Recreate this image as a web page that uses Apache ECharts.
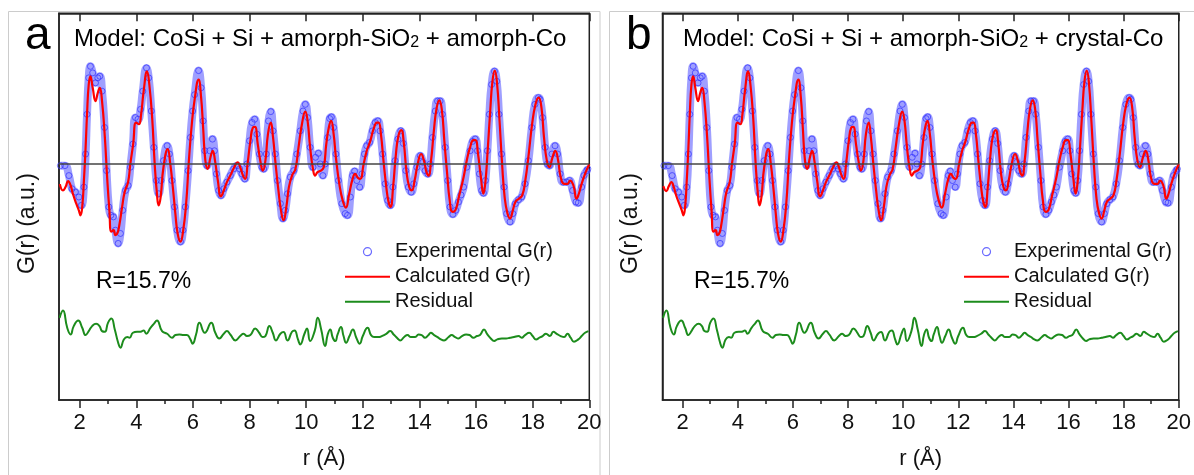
<!DOCTYPE html>
<html><head><meta charset="utf-8">
<script src="https://cdn.jsdelivr.net/npm/echarts@6/dist/echarts.min.js"></script>
<style>html,body{margin:0;padding:0;background:#fff}#c{width:1194px;height:475px}</style>
</head><body><div id="c"></div>
<script>
// r (Å) limits and tick labels
const rMin = 1.27, rMax = 20;
const majorTicks = [2,4,6,8,10,12,14,16,18,20];
const minorTicks = [3,5,7,9,11,13,15,17,19];
const gMin = -23.84, gMax = 15.1;

// Experimental G(r) (same measurement in both panels), [r, G]
const expData = [[1.32,-0.24],[1.48,-0.24],[1.62,-1.24],[1.73,-2.57],[1.85,-2.90],[1.97,-3.40],[2.06,-4.24],[2.15,-2.40],[2.21,0.93],[2.26,4.93],[2.32,8.60],[2.38,9.76],[2.46,9.10],[2.56,8.10],[2.64,8.60],[2.71,8.76],[2.79,7.26],[2.88,3.60],[2.95,-0.74],[3.03,-4.40],[3.10,-5.24],[3.19,-5.40],[3.26,-6.74],[3.36,-8.07],[3.44,-7.07],[3.52,-4.74],[3.62,-2.74],[3.71,-2.24],[3.79,-0.40],[3.88,1.93],[3.97,4.60],[4.06,4.43],[4.15,5.43],[4.23,7.26],[4.36,9.60],[4.44,8.60],[4.53,5.26],[4.62,1.60],[4.71,-1.74],[4.79,-3.07],[4.87,-1.74],[4.96,0.26],[5.09,1.76],[5.17,0.93],[5.26,-1.74],[5.35,-4.40],[5.44,-6.74],[5.56,-7.90],[5.65,-6.74],[5.73,-4.40],[5.83,-0.74],[5.91,2.60],[5.99,5.26],[6.06,6.90],[6.20,9.33],[6.29,7.60],[6.36,4.26],[6.42,1.26],[6.50,-0.24],[6.59,1.26],[6.69,2.43],[6.76,1.26],[6.83,-1.07],[6.91,-2.74],[6.99,-3.24],[7.09,-2.57],[7.20,-1.90],[7.32,-1.24],[7.44,-0.57],[7.56,-0.24],[7.65,-0.57],[7.73,-1.07],[7.83,-1.57],[7.91,-0.07],[8.00,2.26],[8.09,4.10],[8.18,4.43],[8.26,2.93],[8.35,0.93],[8.44,-0.40],[8.50,-0.57],[8.59,0.93],[8.67,4.26],[8.75,5.20],[8.83,3.26],[8.91,0.93],[8.99,-1.74],[9.09,-4.07],[9.18,-5.57],[9.26,-4.74],[9.34,-3.07],[9.44,-1.40],[9.56,-0.74],[9.67,0.93],[9.79,3.26],[9.89,5.26],[9.97,5.93],[10.05,4.60],[10.14,1.60],[10.24,-0.40],[10.33,0.60],[10.43,1.00],[10.50,-0.07],[10.59,-1.24],[10.67,-0.07],[10.76,2.60],[10.83,4.50],[10.89,4.66],[10.97,3.60],[11.05,0.93],[11.14,-1.74],[11.26,-4.07],[11.38,-5.07],[11.46,-5.24],[11.56,-3.40],[11.64,-1.24],[11.71,-0.80],[11.79,-1.74],[11.89,-2.40],[11.97,-1.07],[12.06,0.93],[12.14,1.76],[12.24,2.10],[12.34,3.26],[12.44,4.10],[12.53,4.26],[12.61,3.26],[12.70,0.93],[12.79,-2.07],[12.88,-3.74],[12.97,-4.24],[13.06,-2.40],[13.14,0.26],[13.24,2.43],[13.34,3.26],[13.43,2.00],[13.52,-0.74],[13.61,-2.40],[13.71,-2.90],[13.80,-2.07],[13.91,-0.40],[14.03,0.76],[14.12,0.10],[14.20,-0.74],[14.30,-1.07],[14.38,-0.07],[14.46,2.60],[14.56,5.26],[14.64,6.26],[14.73,6.26],[14.81,4.93],[14.91,1.60],[15.00,-1.74],[15.08,-4.40],[15.18,-5.14],[15.28,-4.74],[15.38,-3.90],[15.47,-3.20],[15.56,-2.40],[15.67,-0.40],[15.79,1.26],[15.88,2.20],[15.97,2.43],[16.05,1.26],[16.12,-1.07],[16.20,-2.74],[16.26,-3.00],[16.33,-1.74],[16.40,1.26],[16.47,4.93],[16.55,7.93],[16.65,9.26],[16.73,8.26],[16.81,4.93],[16.90,0.93],[16.99,-2.40],[17.08,-5.07],[17.20,-5.90],[17.30,-5.07],[17.39,-4.07],[17.50,-3.67],[17.61,-3.40],[17.73,-2.07],[17.85,0.26],[17.97,3.60],[18.08,5.93],[18.20,6.60],[18.26,6.43],[18.35,4.60],[18.44,1.60],[18.52,-0.07],[18.59,-0.24],[18.68,0.93],[18.79,1.76],[18.88,0.93],[18.97,-1.07],[19.08,-1.90],[19.20,-1.90],[19.30,-1.74],[19.41,-2.74],[19.53,-3.90],[19.61,-4.00],[19.73,-2.40],[19.81,-1.24],[19.91,-0.74],[19.95,-0.57]];

// Calculated G(r), panel a (amorph-Co model)
const calcA = [[1.30,-2.10],[1.41,-2.74],[1.50,-2.40],[1.59,-1.80],[1.68,-2.24],[1.76,-3.07],[1.88,-4.07],[1.97,-4.74],[2.03,-5.24],[2.09,-4.40],[2.15,-1.74],[2.21,1.60],[2.26,4.93],[2.32,7.93],[2.38,8.76],[2.46,7.60],[2.56,6.26],[2.64,7.10],[2.71,7.60],[2.79,6.26],[2.89,2.60],[2.97,-1.40],[3.05,-4.74],[3.12,-6.90],[3.20,-6.74],[3.26,-7.24],[3.33,-7.07],[3.40,-6.24],[3.50,-4.40],[3.59,-2.90],[3.71,-1.90],[3.79,-0.07],[3.89,1.93],[3.99,4.10],[4.09,3.93],[4.17,4.93],[4.26,7.26],[4.38,9.26],[4.46,7.93],[4.56,4.60],[4.65,-0.07],[4.73,-3.07],[4.79,-4.24],[4.86,-3.40],[4.96,-0.40],[5.11,1.43],[5.20,-0.07],[5.29,-2.40],[5.38,-5.07],[5.46,-7.07],[5.56,-7.90],[5.65,-6.90],[5.76,-4.07],[5.85,-0.07],[5.95,3.60],[6.06,6.40],[6.20,8.43],[6.29,6.60],[6.36,3.60],[6.44,0.26],[6.52,-0.57],[6.62,0.60],[6.70,1.26],[6.78,0.26],[6.88,-1.74],[6.99,-3.34],[7.09,-2.74],[7.20,-1.90],[7.32,-1.24],[7.46,-0.40],[7.58,0.10],[7.67,-0.40],[7.77,-1.24],[7.85,-1.57],[7.93,-0.07],[8.03,2.26],[8.12,3.60],[8.19,3.66],[8.29,1.93],[8.38,0.26],[8.47,-0.74],[8.56,0.26],[8.65,2.93],[8.75,4.10],[8.83,2.60],[8.92,-0.07],[9.02,-2.74],[9.11,-4.74],[9.20,-5.74],[9.30,-4.40],[9.39,-2.40],[9.50,-1.24],[9.62,-0.57],[9.73,1.60],[9.85,3.93],[9.97,5.20],[10.05,4.26],[10.14,1.60],[10.24,-0.57],[10.32,-1.24],[10.40,-0.90],[10.52,-0.74],[10.62,-0.40],[10.71,1.93],[10.80,3.60],[10.88,4.26],[10.97,2.93],[11.05,0.60],[11.17,-2.07],[11.29,-3.74],[11.40,-4.47],[11.52,-3.07],[11.64,-1.57],[11.73,-1.07],[11.83,-1.47],[11.91,-1.57],[12.03,-0.07],[12.14,1.26],[12.26,2.20],[12.38,3.43],[12.50,4.10],[12.56,4.10],[12.64,2.93],[12.73,0.26],[12.83,-2.40],[12.91,-3.90],[12.98,-4.40],[13.07,-2.40],[13.17,0.93],[13.26,2.76],[13.36,3.33],[13.45,2.00],[13.54,-0.74],[13.64,-2.40],[13.73,-2.74],[13.83,-1.74],[13.94,-0.07],[14.06,0.93],[14.16,0.26],[14.25,-0.90],[14.32,-1.24],[14.41,0.26],[14.51,3.26],[14.60,5.43],[14.70,6.33],[14.79,5.43],[14.88,2.26],[14.98,-1.07],[15.07,-3.74],[15.17,-4.90],[15.28,-4.67],[15.40,-3.30],[15.56,-1.40],[15.67,0.26],[15.79,1.60],[15.91,2.33],[15.98,2.33],[16.07,0.93],[16.17,-1.40],[16.26,-3.07],[16.33,-1.90],[16.41,1.26],[16.50,5.26],[16.58,8.26],[16.66,9.33],[16.74,8.10],[16.83,4.26],[16.92,-0.07],[17.01,-3.40],[17.11,-5.07],[17.20,-5.57],[17.30,-4.74],[17.39,-3.90],[17.51,-3.57],[17.63,-3.24],[17.74,-1.74],[17.86,0.93],[17.98,3.93],[18.10,5.93],[18.21,6.60],[18.31,5.60],[18.40,2.60],[18.50,0.26],[18.59,-0.40],[18.70,0.60],[18.80,1.26],[18.90,0.26],[18.99,-1.40],[19.11,-2.07],[19.23,-2.07],[19.32,-1.74],[19.44,-2.24],[19.55,-3.57],[19.63,-3.07],[19.73,-2.07],[19.85,-1.07],[20.00,-0.07]];

// Residual (offset), panel a
const resA = [[1.29,-15.57],[1.41,-14.84],[1.56,-16.57],[1.68,-17.24],[1.79,-16.40],[1.95,-15.84],[2.09,-16.57],[2.21,-17.30],[2.32,-16.90],[2.44,-16.40],[2.58,-16.17],[2.70,-16.40],[2.79,-16.90],[2.89,-16.97],[3.00,-16.07],[3.12,-15.64],[3.24,-16.74],[3.36,-18.07],[3.44,-18.57],[3.56,-17.74],[3.68,-17.50],[3.76,-17.57],[3.88,-17.07],[4.03,-16.97],[4.15,-16.97],[4.26,-16.84],[4.35,-17.17],[4.50,-16.57],[4.62,-16.17],[4.73,-15.84],[4.91,-16.90],[5.09,-17.17],[5.26,-17.57],[5.38,-17.30],[5.52,-17.24],[5.67,-17.30],[5.79,-17.30],[5.91,-17.74],[5.99,-18.17],[6.11,-17.24],[6.23,-16.07],[6.42,-17.07],[6.65,-16.07],[6.79,-17.07],[6.93,-17.64],[7.09,-17.17],[7.20,-16.90],[7.32,-17.24],[7.50,-17.84],[7.67,-17.40],[7.79,-17.17],[7.91,-17.40],[8.03,-17.30],[8.20,-16.64],[8.34,-17.07],[8.46,-17.50],[8.56,-17.40],[8.70,-16.40],[8.82,-17.07],[8.93,-17.84],[9.09,-17.17],[9.20,-17.00],[9.34,-17.84],[9.50,-16.97],[9.59,-16.84],[9.71,-17.74],[9.79,-18.24],[9.94,-17.17],[10.03,-16.64],[10.14,-17.90],[10.30,-16.90],[10.41,-15.57],[10.53,-16.74],[10.67,-18.40],[10.76,-17.24],[10.85,-16.74],[10.94,-17.57],[11.03,-17.90],[11.11,-17.24],[11.23,-16.50],[11.32,-17.40],[11.41,-18.07],[11.53,-17.40],[11.65,-16.74],[11.77,-17.57],[11.89,-18.17],[12.00,-17.40],[12.17,-16.57],[12.29,-17.30],[12.40,-17.50],[12.56,-17.50],[12.67,-17.40],[12.83,-17.17],[12.97,-16.90],[13.09,-17.24],[13.23,-17.64],[13.32,-17.84],[13.46,-17.50],[13.58,-17.30],[13.70,-17.50],[13.85,-17.50],[13.97,-17.24],[14.08,-17.30],[14.20,-17.57],[14.32,-17.30],[14.40,-17.07],[14.52,-17.30],[14.64,-17.50],[14.76,-17.74],[14.87,-17.84],[15.03,-17.50],[15.14,-17.30],[15.26,-17.50],[15.38,-17.64],[15.50,-17.40],[15.65,-17.24],[15.77,-17.30],[15.91,-17.57],[16.03,-17.40],[16.14,-17.30],[16.28,-16.74],[16.40,-17.24],[16.52,-17.64],[16.64,-17.90],[16.75,-17.74],[16.91,-17.64],[17.06,-17.64],[17.20,-17.57],[17.34,-17.50],[17.50,-17.40],[17.61,-17.57],[17.73,-17.30],[17.88,-17.07],[18.00,-17.40],[18.12,-17.74],[18.24,-17.57],[18.35,-17.40],[18.47,-17.17],[18.61,-17.40],[18.73,-16.97],[18.85,-17.17],[18.99,-17.40],[19.11,-17.50],[19.23,-17.17],[19.34,-17.57],[19.46,-17.97],[19.61,-17.74],[19.73,-17.40],[19.85,-17.07],[19.97,-16.90]];

// Calculated G(r), panel b (crystal-Co model)
const calcB = [[1.30,-2.30],[1.41,-2.80],[1.50,-2.30],[1.59,-1.90],[1.68,-2.40],[1.76,-3.20],[1.88,-4.10],[1.97,-4.74],[2.03,-5.24],[2.09,-4.40],[2.15,-1.74],[2.21,1.60],[2.26,4.93],[2.32,7.93],[2.38,8.76],[2.46,7.60],[2.56,6.26],[2.64,7.10],[2.71,7.60],[2.79,6.26],[2.89,2.60],[2.97,-1.40],[3.05,-4.74],[3.12,-6.90],[3.20,-6.74],[3.26,-7.24],[3.33,-7.07],[3.40,-6.24],[3.50,-4.40],[3.59,-2.90],[3.71,-1.90],[3.79,-0.07],[3.89,1.93],[3.99,4.10],[4.09,3.93],[4.17,4.93],[4.26,7.26],[4.38,9.26],[4.46,7.93],[4.56,4.60],[4.65,-0.07],[4.73,-3.07],[4.79,-4.24],[4.86,-3.40],[4.96,-0.40],[5.11,1.43],[5.20,-0.07],[5.29,-2.40],[5.38,-5.07],[5.46,-7.07],[5.56,-7.90],[5.65,-6.90],[5.76,-4.07],[5.85,-0.07],[5.95,3.60],[6.06,6.40],[6.20,8.43],[6.29,6.60],[6.36,3.60],[6.44,0.26],[6.52,-0.57],[6.62,0.60],[6.70,1.26],[6.78,0.26],[6.88,-1.74],[6.99,-3.34],[7.09,-2.74],[7.20,-1.90],[7.32,-1.24],[7.46,-0.40],[7.58,0.10],[7.67,-0.40],[7.77,-1.24],[7.85,-1.57],[7.93,-0.07],[8.03,2.26],[8.12,3.60],[8.19,3.66],[8.29,1.93],[8.38,0.26],[8.47,-0.74],[8.56,0.26],[8.65,2.93],[8.75,4.10],[8.83,2.60],[8.92,-0.07],[9.02,-2.74],[9.11,-4.74],[9.20,-5.74],[9.30,-4.40],[9.39,-2.40],[9.50,-1.24],[9.62,-0.57],[9.73,1.60],[9.85,3.93],[9.97,5.20],[10.05,4.26],[10.14,1.60],[10.24,-0.57],[10.32,-1.24],[10.40,-0.90],[10.52,-0.74],[10.62,-0.40],[10.71,1.93],[10.80,3.60],[10.88,4.26],[10.97,2.93],[11.05,0.60],[11.17,-2.07],[11.29,-3.74],[11.40,-4.47],[11.52,-3.07],[11.64,-1.57],[11.73,-1.07],[11.83,-1.47],[11.91,-1.57],[12.03,-0.07],[12.14,1.26],[12.26,2.20],[12.38,3.43],[12.50,4.10],[12.56,4.10],[12.64,2.93],[12.73,0.26],[12.83,-2.40],[12.91,-3.90],[12.98,-4.40],[13.07,-2.40],[13.17,0.93],[13.26,2.76],[13.36,3.33],[13.45,2.00],[13.54,-0.74],[13.64,-2.40],[13.73,-2.74],[13.83,-1.74],[13.94,-0.07],[14.06,0.93],[14.16,0.26],[14.25,-0.90],[14.32,-1.24],[14.41,0.26],[14.51,3.26],[14.60,5.43],[14.70,6.33],[14.79,5.43],[14.88,2.26],[14.98,-1.07],[15.07,-3.74],[15.17,-4.90],[15.28,-4.67],[15.40,-3.30],[15.56,-1.40],[15.67,0.26],[15.79,1.60],[15.91,2.33],[15.98,2.33],[16.07,0.93],[16.17,-1.40],[16.26,-3.07],[16.33,-1.90],[16.41,1.26],[16.50,5.26],[16.58,8.26],[16.66,9.33],[16.74,8.10],[16.83,4.26],[16.92,-0.07],[17.01,-3.40],[17.11,-5.07],[17.20,-5.57],[17.30,-4.74],[17.39,-3.90],[17.51,-3.57],[17.63,-3.24],[17.74,-1.74],[17.86,0.93],[17.98,3.93],[18.10,5.93],[18.21,6.60],[18.31,5.60],[18.40,2.60],[18.50,0.26],[18.59,-0.40],[18.70,0.60],[18.80,1.26],[18.90,0.26],[18.99,-1.40],[19.11,-2.07],[19.23,-2.07],[19.32,-1.74],[19.44,-2.24],[19.55,-3.57],[19.63,-3.07],[19.73,-2.07],[19.85,-1.07],[20.00,-0.07]];

// Residual (offset), panel b
const resB = resA.map(p => [p[0], p[1]]);

const FONT = 'Liberation Sans, Arial, Helvetica, sans-serif';
const panels = [
  {calc: calcA, res: resA, left: 59, letter: 'a', letterX: 25, title: 'Model: CoSi + Si + amorph-SiO{s|2} + amorph-Co', titleX: 74, rX: 96, legX: 344},
  {calc: calcB, res: resB, left: 662.5, letter: 'b', letterX: 626, title: 'Model: CoSi + Si + amorph-SiO{s|2} + crystal-Co', titleX: 683, rX: 694, legX: 963}
];
const gridW = 530.3, gridTop = 13.3, gridH = 389.4;
const AX = '#222';

const option = {
  animation: false,
  backgroundColor: '#fff',
  textStyle: {fontFamily: FONT},
  grid: [], xAxis: [], yAxis: [], series: [], legend: [], title: [],
  graphic: [
    {type:'rect', silent:true, z:-10, shape:{x:8.5,y:11.5,width:591.5,height:480}, style:{fill:'none', stroke:'#cccccc', lineWidth:1}},
    {type:'rect', silent:true, z:-10, shape:{x:609.5,y:11.5,width:600,height:480}, style:{fill:'none', stroke:'#cccccc', lineWidth:1}}
  ]
};

panels.forEach((p, g) => {
  option.grid.push({left: p.left, top: gridTop, width: gridW, height: gridH, show: true, borderColor: AX, borderWidth: 1.5, backgroundColor: 'transparent'});
  const base = {gridIndex: g, type: 'value', min: rMin, max: rMax, splitLine: {show: false}};
  option.xAxis.push(Object.assign({}, base, {
    position: 'bottom',
    axisLine: {show: true, onZero: false, lineStyle: {color: AX, width: 1.5}},
    axisTick: {show: true, customValues: majorTicks, length: 8, lineStyle: {color: AX, width: 1.5}},
    axisLabel: {show: true, customValues: majorTicks, fontSize: 22, color: '#111', margin: 12, fontFamily: FONT},
    name: 'r (Å)', nameLocation: 'middle', nameGap: 48,
    nameTextStyle: {fontSize: 22, color: '#111', fontFamily: FONT}
  }));
  option.xAxis.push(Object.assign({}, base, {
    position: 'bottom',
    axisLine: {show: false, onZero: false},
    axisTick: {show: true, customValues: minorTicks, length: 4, lineStyle: {color: AX, width: 1.5}},
    axisLabel: {show: false}
  }));
  option.xAxis.push(Object.assign({}, base, {
    position: 'top',
    axisLine: {show: true, onZero: false, lineStyle: {color: AX, width: 1.5}},
    axisTick: {show: true, inside: true, customValues: majorTicks, length: 8, lineStyle: {color: AX, width: 1.5}},
    axisLabel: {show: false}
  }));
  option.yAxis.push({
    gridIndex: g, type: 'value', min: gMin, max: gMax,
    axisLine: {show: true, onZero: false, lineStyle: {color: AX, width: 1.5}},
    axisTick: {show: false}, axisLabel: {show: false}, splitLine: {show: false},
    name: 'G(r) (a.u.)', nameLocation: 'middle', nameGap: 20, nameRotate: 90,
    nameTextStyle: {fontSize: 23, color: '#111', fontFamily: FONT, padding: [0, 34, 0, 0]}
  });
  const xi = g * 3;
  option.series.push({
    type: 'line', name: 'Experimental G(r)', xAxisIndex: xi, yAxisIndex: g, data: expData,
    smooth: true, showSymbol: true, symbol: 'circle', symbolSize: 6,
    itemStyle: {color: 'rgba(0,0,0,0)', borderColor: 'rgba(50,50,255,0.7)', borderWidth: 1},
    lineStyle: {color: 'rgba(100,100,255,0.62)', width: 8}, z: 2
  });
  option.series.push({
    type: 'line', name: 'Calculated G(r)', xAxisIndex: xi, yAxisIndex: g, data: p.calc,
    smooth: true, showSymbol: false, symbol: 'none',
    itemStyle: {color: '#ff0000'}, lineStyle: {color: '#ff0000', width: 2.2}, z: 4,
    markLine: {silent: true, symbol: 'none', label: {show: false}, lineStyle: {color: '#444', width: 1.5, type: 'solid'}, data: [{yAxis: 0}]}
  });
  option.series.push({
    type: 'line', name: 'Residual', xAxisIndex: xi, yAxisIndex: g, data: p.res,
    smooth: true, showSymbol: false, symbol: 'none',
    itemStyle: {color: '#1c8c1c'}, lineStyle: {color: '#1c8c1c', width: 2}, z: 3
  });
  option.legend.push({
    left: p.legX, top: 241.7, orient: 'vertical', padding: 0, itemWidth: 45, itemHeight: 8, itemGap: 5,
    selectedMode: false,
    textStyle: {fontSize: 20, color: '#111', lineHeight: 20, fontFamily: FONT},
    data: [
      {name: 'Experimental G(r)', icon: 'circle', itemStyle: {color: 'rgba(0,0,0,0)', borderColor: '#6b6bff', borderWidth: 1.2}},
      {name: 'Calculated G(r)', itemStyle: {opacity: 0}},
      {name: 'Residual', itemStyle: {opacity: 0}}
    ]
  });
  option.title.push({text: p.letter, left: p.letterX, top: 13.5, padding: 0, textStyle: {fontSize: 46, fontWeight: 'normal', color: '#000', fontFamily: FONT}});
  option.title.push({text: p.title, left: p.titleX, top: 27, padding: 0, textStyle: {fontSize: 24, fontWeight: 'normal', color: '#000', fontFamily: FONT, rich: {s: {fontSize: 16, verticalAlign: 'bottom', fontFamily: FONT, color: '#000'}}}});
  option.title.push({text: 'R=15.7%', left: p.rX, top: 270, padding: 0, textStyle: {fontSize: 23, fontWeight: 'normal', color: '#000', fontFamily: FONT}});
});

const chart = echarts.init(document.getElementById('c'), null, {renderer: 'canvas'});
chart.setOption(option);
</script></body></html>
